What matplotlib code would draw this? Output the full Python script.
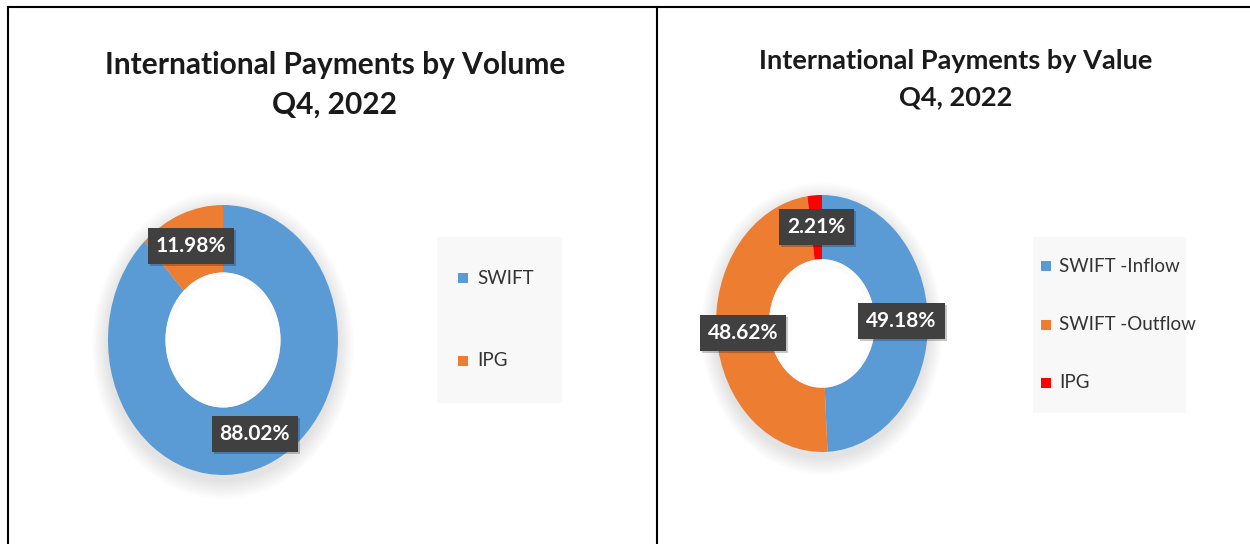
import matplotlib
matplotlib.use("Agg")
import matplotlib.pyplot as plt
from matplotlib.patches import Ellipse, Rectangle
from matplotlib.lines import Line2D
import matplotlib.transforms as mtransforms

# ---- data ----
vol_labels = ["SWIFT", "IPG"]
vol_values = [88.02, 11.98]
vol_colors = ["#5B9BD5", "#ED7D31"]

val_labels = ["SWIFT -Inflow", "SWIFT -Outflow", "IPG"]
val_values = [49.18, 48.62, 2.21]
val_colors = ["#5B9BD5", "#ED7D31", "#FF0000"]

title_vol = "International Payments by Volume\nQ4, 2022"
title_val = "International Payments by Value\nQ4, 2022"

W, H = 1250, 544
plt.rcParams['font.family'] = ['Lato', 'DejaVu Sans']
fig = plt.figure(figsize=(W / 100, H / 100), dpi=100)
fig.patch.set_facecolor("white")


def px_rect(x0, y0, x1, y1):
    """pixel box (top-left origin) -> figure fraction rect"""
    return [x0 / W, (H - y1) / H, (x1 - x0) / W, (y1 - y0) / H]


def donut(rect, values, colors):
    ax = fig.add_axes(rect)
    # soft shadow
    for k in range(14):
        s = 1.0 + 0.01 * (k + 1)
        ax.add_patch(Ellipse((0, -0.04), 2 * s, 2 * s, facecolor="black",
                             edgecolor="none", alpha=0.006, zorder=0, clip_on=False))
    wedges, _, autotexts = ax.pie(
        values, colors=colors, startangle=90, counterclock=False,
        radius=1.0, wedgeprops=dict(width=0.5, edgecolor="none"),
        autopct=lambda p: f"{p:.2f}%", pctdistance=0.75,
        textprops=dict(color="white", fontsize=15, fontweight="bold"))
    ax.set_aspect("auto")
    ax.set_xlim(-1, 1)
    ax.set_ylim(-1, 1)
    # white hole with faint inner shade
    ax.add_patch(Ellipse((0, 0), 1.0, 1.0, facecolor="white", edgecolor="none",
                         zorder=3))
    for k in range(6):
        s = 0.5 - 0.006 * (k + 1)
        ax.add_patch(Ellipse((0, -0.015), 2 * s, 2 * s, facecolor="none",
                             edgecolor="black", lw=1.0, alpha=0.008, zorder=3.1))
    for v, t in zip(values, autotexts):
        t.set_text(f"{v:.2f}%")
        t.set_bbox(dict(boxstyle="square,pad=0.38", facecolor="#404040",
                        edgecolor="none"))
        t.set_zorder(5)
        off = mtransforms.offset_copy(t.get_transform(), fig=fig, x=2, y=-2, units="dots")
        sh = ax.text(*t.get_position(), t.get_text(), transform=off, ha="center",
                     va="center", fontsize=15, fontweight="bold", color="#00000000",
                     zorder=4)
        sh.set_bbox(dict(boxstyle="square,pad=0.38", facecolor="#000000",
                         edgecolor="none", alpha=0.22))
    return ax


# left donut: center (223,340), rx 115, ry 135
donut(px_rect(108, 205, 338, 475), vol_values, vol_colors)
# right donut: center (822,323), rx 106, ry 128
donut(px_rect(716, 195, 928, 452), val_values, val_colors)

# titles
fig.text(335 / W, 1 - 85 / H, title_vol, ha="center", va="center", fontsize=21.5,
         fontweight="bold", color="#1a1a1a", linespacing=1.5)
fig.text(956 / W, 1 - 79 / H, title_val, ha="center", va="center", fontsize=19.5,
         fontweight="bold", color="#1a1a1a", linespacing=1.6)


def legend(box, labels, colors, ys, mx, tx):
    x0, y0, x1, y1 = box
    fig.add_artist(Rectangle((x0 / W, 1 - y1 / H), (x1 - x0) / W, (y1 - y0) / H,
                             transform=fig.transFigure, facecolor="#F8F8F8",
                             edgecolor="none"))
    for lab, c, y in zip(labels, colors, ys):
        fig.add_artist(Rectangle(((mx - 5) / W, 1 - (y + 5) / H), 10 / W, 10 / H,
                                 transform=fig.transFigure, facecolor=c,
                                 edgecolor="none"))
        fig.text(tx / W, 1 - y / H, lab, ha="left", va="center", fontsize=13.5,
                 color="#333333")


legend((437, 237, 562, 403), vol_labels, vol_colors, [278, 361], 463, 477)
legend((1033, 237, 1186, 413), val_labels, val_colors, [266, 325, 383], 1046, 1059)

# panel borders
lw = 1.5
fig.add_artist(Line2D([8 / W, 1], [1 - 7 / H, 1 - 7 / H], transform=fig.transFigure,
                      color="black", lw=lw))
fig.add_artist(Line2D([8 / W, 8 / W], [0, 1 - 7 / H], transform=fig.transFigure,
                      color="black", lw=lw))
fig.add_artist(Line2D([657 / W, 657 / W], [0, 1 - 7 / H], transform=fig.transFigure,
                      color="black", lw=lw))

fig.savefig("out.png", dpi=100, facecolor="white")
